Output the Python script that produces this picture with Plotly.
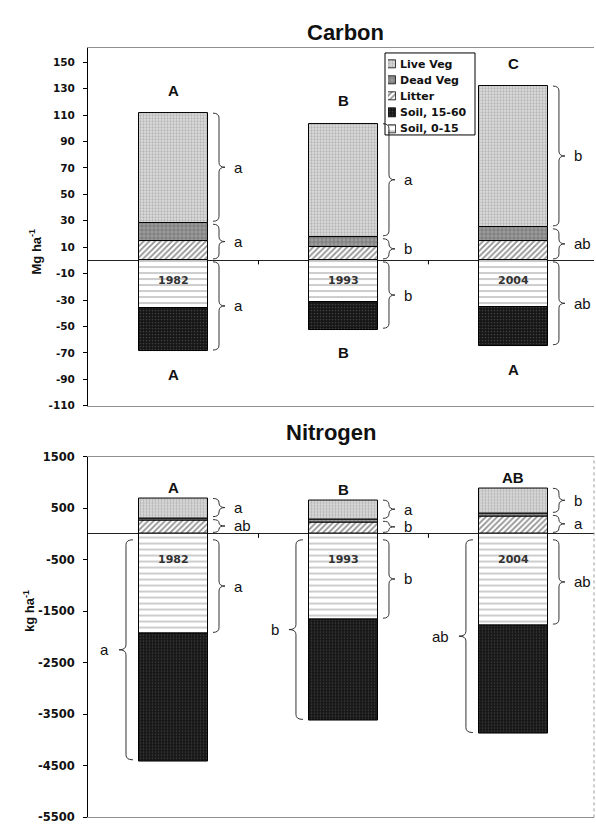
import plotly.graph_objects as go

W, H = 596, 829

# ---------------- data ----------------
years = ["1982", "1993", "2004"]
series_names = ["Live Veg", "Dead Veg", "Litter", "Soil, 15-60", "Soil, 0-15"]

# Carbon, Mg ha-1
c_live = [83, 86, 107]
c_dead = [13.5, 7.5, 10.5]
c_litter = [15, 10, 14.5]
c_soil_0_15 = [-36, -31.5, -35]
c_soil_15_60 = [-33, -21, -30]

# Nitrogen, kg ha-1
n_live = [382, 382, 496]
n_dead = [45, 44, 44]
n_litter = [260, 229, 344]
n_soil_0_15 = [-1940, -1665, -1780]
n_soil_15_60 = [-2472, -1963, -2103]

c_ticks = [150, 130, 110, 90, 70, 50, 30, 10, -10, -30, -50, -70, -90, -110]
n_ticks = [1500, 500, -500, -1500, -2500, -3500, -4500, -5500]

c_sig_total = ["A", "B", "C"]
c_sig_soil_total = ["A", "B", "A"]
c_sig_live = ["a", "a", "b"]
c_sig_surface = ["a", "b", "ab"]
c_sig_soil = ["a", "b", "ab"]

n_sig_total = ["A", "B", "AB"]
n_sig_live = ["a", "a", "b"]
n_sig_surface = ["ab", "b", "a"]
n_sig_soil_0_15 = ["a", "b", "ab"]
n_sig_soil = ["a", "b", "ab"]

# ---------------- styles / geometry ----------------
patterns = {
    "Live Veg": dict(shape=".", bgcolor="#dedede", fgcolor="#8a8a8a", size=3, solidity=0.45),
    "Dead Veg": dict(shape="+", bgcolor="#9c9c9c", fgcolor="#3c3c3c", size=4, solidity=0.3),
    "Litter": dict(shape="/", bgcolor="#ffffff", fgcolor="#222222", size=4, solidity=0.45),
    "Soil, 15-60": dict(shape=".", bgcolor="#151515", fgcolor="#6e6e6e", size=3, solidity=0.25),
    "Soil, 0-15": dict(shape="-", bgcolor="#ffffff", fgcolor="#3a3a3a", size=6, solidity=0.17),
}

X_L, X_R = 88, 594
TOP = (41.7, 405.0)
BOT = (456.7, 823.3)
x_range = [-0.503, 2.474]
c_range = [-110, 160.8]
n_range = [-5500, 1500]
BAR_W = 0.406
px_per_x = (X_R - X_L) / (x_range[1] - x_range[0])

FONT = "Liberation Sans, Arial, sans-serif"
DJ = "DejaVu Sans, sans-serif"

xpos = list(range(len(years)))

fig = go.Figure()
shapes = []
annotations = []


def ydom(px0, px1):
    return [1 - px1 / H, 1 - px0 / H]


def brace(xa, lo, hi, w, r, xref, yref):
    xm = xa + w / 2
    xt = xa + w
    ym = (lo + hi) / 2
    p = (f"M {xa},{hi} Q {xm},{hi} {xm},{hi - r} L {xm},{ym + r} "
         f"Q {xm},{ym} {xt},{ym} Q {xm},{ym} {xm},{ym - r} "
         f"L {xm},{lo + r} Q {xm},{lo} {xa},{lo}")
    return dict(type="path", path=p, xref=xref, yref=yref,
                line=dict(color="#333333", width=1))


def add_chart(xa, ya, yr, px_box, layers, sig_total, sig_live, sig_surface,
              sig_soil_right, soil_right_both, sig_soil_left, sig_soil_total,
              above_shift, below_shift, year_shift):
    live, dead, litter, s015, s1560 = layers
    px_per_y = (px_box[1] - px_box[0]) / (yr[1] - yr[0])
    order = [("Soil, 0-15", s015), ("Soil, 15-60", s1560), ("Litter", litter),
             ("Dead Veg", dead), ("Live Veg", live)]
    for name, vals in order:
        fig.add_trace(go.Bar(
            x=xpos, y=vals, width=BAR_W, name=name, xaxis=xa, yaxis=ya,
            showlegend=False, hoverinfo="skip",
            marker=dict(pattern=patterns[name], line=dict(color="#000", width=1)),
        ))
    xref, yref = xa, ya
    gap = 1.5 / px_per_y
    r_px = 5
    for i, x in enumerate(xpos):
        surf = litter[i] + dead[i]
        top = surf + live[i]
        soil015 = s015[i]
        soil_tot = s015[i] + s1560[i]
        xr_edge = x + BAR_W / 2 + 5 / px_per_x
        bw = 12 / px_per_x
        tip_lab = xr_edge + bw + 7 / px_per_x
        rights = [(surf + gap, top, sig_live[i]), (gap, surf - gap, sig_surface[i])]
        if soil_right_both:
            rights.append((soil_tot + gap, -gap, sig_soil_right[i]))
        else:
            rights.append((soil015 + gap, -4 * gap, sig_soil_right[i]))
        for lo, hi, lab in rights:
            r = min(r_px / px_per_y, (hi - lo) / 4)
            shapes.append(brace(xr_edge, lo, hi, bw, r, xref, yref))
            annotations.append(dict(x=tip_lab, y=(lo + hi) / 2, xref=xref, yref=yref,
                                    text=lab, showarrow=False, xanchor="left",
                                    yanchor="middle", font=dict(family=FONT, size=15, color="#111")))
        if sig_soil_left is not None:
            xl_edge = x - BAR_W / 2 - 6 / px_per_x
            lo, hi = soil_tot + gap, -4 * gap
            r = min(r_px / px_per_y, (hi - lo) / 4)
            shapes.append(brace(xl_edge, lo, hi, -14 / px_per_x, r, xref, yref))
            annotations.append(dict(x=xl_edge - 22 / px_per_x, y=(lo + hi) / 2, xref=xref,
                                    yref=yref, text=sig_soil_left[i], showarrow=False,
                                    xanchor="right", yanchor="middle",
                                    font=dict(family=FONT, size=15, color="#111")))
        annotations.append(dict(x=x, y=top, xref=xref, yref=yref, text=f"<b>{sig_total[i]}</b>",
                                showarrow=False, yanchor="middle", yshift=above_shift,
                                font=dict(family=FONT, size=15, color="#111")))
        if sig_soil_total is not None:
            annotations.append(dict(x=x, y=soil_tot, xref=xref, yref=yref,
                                    text=f"<b>{sig_soil_total[i]}</b>", showarrow=False,
                                    yanchor="middle", yshift=below_shift,
                                    font=dict(family=FONT, size=15, color="#111")))
        annotations.append(dict(x=x, y=0, xref=xref, yref=yref, text=f"<b>{years[i]}</b>",
                                showarrow=False, yanchor="middle", yshift=year_shift,
                                font=dict(family=DJ, size=11, color="#333")))
    # category boundary ticks on the zero line
    for b in [0.5, 1.5]:
        shapes.append(dict(type="line", xref=xref, yref=yref, x0=b, x1=b,
                           ysizemode="pixel", yanchor=0, y0=0, y1=-4,
                           line=dict(color="#000", width=1)))


add_chart("x", "y", c_range, TOP,
          (c_live, c_dead, c_litter, c_soil_0_15, c_soil_15_60),
          c_sig_total, c_sig_live, c_sig_surface, c_sig_soil, True, None,
          c_sig_soil_total, 23, -23, -20)
add_chart("x2", "y2", n_range, BOT,
          (n_live, n_dead, n_litter, n_soil_0_15, n_soil_15_60),
          n_sig_total, n_sig_live, n_sig_surface, n_sig_soil_0_15, False, n_sig_soil,
          None, 11, 0, -26)

# ---------------- legend (drawn manually) ----------------
leg_rows = list(range(len(series_names)))
for i, name in enumerate(series_names):
    fig.add_trace(go.Bar(
        x=[1], y=[leg_rows[i]], orientation="h", width=0.5, xaxis="x3", yaxis="y3",
        showlegend=False, hoverinfo="skip",
        marker=dict(pattern=patterns[name], line=dict(color="#000", width=0.8)),
    ))
    annotations.append(dict(x=398 / W, y=leg_rows[i], xref="paper", yref="y3",
                            text=f"<b>{name}</b>", showarrow=False, xanchor="left",
                            yanchor="middle", font=dict(family=DJ, size=11, color="#111")))
shapes.append(dict(type="rect", xref="paper", yref="paper", x0=385 / W, x1=475 / W,
                   y0=1 - 130 / H, y1=1 - 46.7 / H, line=dict(color="#000", width=1),
                   layer="above"))

# right frame of the lower chart
shapes.append(dict(type="line", xref="x2 domain", yref="y2 domain", x0=1, x1=1, y0=0, y1=1,
                   line=dict(color="#9a9a9a", width=1, dash="dot")))

# titles
annotations.append(dict(x=345 / W, y=1 - 25.6 / H, xref="paper", yref="paper",
                        text="<b>Carbon</b>", showarrow=False, yanchor="middle",
                        font=dict(family=FONT, size=22, color="#111")))
annotations.append(dict(x=331 / W, y=1 - 432 / H, xref="paper", yref="paper",
                        text="<b>Nitrogen</b>", showarrow=False, yanchor="middle",
                        font=dict(family=FONT, size=22, color="#111")))
annotations.append(dict(x=25 / W, y=1 - 223 / H, xref="paper", yref="paper",
                        text="<b>Mg ha<sup>-1</sup></b>", showarrow=False, textangle=-90,
                        font=dict(family=FONT, size=13, color="#111")))
annotations.append(dict(x=19 / W, y=1 - 637 / H, xref="paper", yref="paper",
                        text="<b>kg ha<sup>-1</sup></b>", showarrow=False, textangle=-90,
                        font=dict(family=FONT, size=13, color="#111")))

xdom = [X_L / W, X_R / W]
xaxis_common = dict(domain=xdom, range=x_range, showticklabels=False, showgrid=False,
                    zeroline=False, showline=True, mirror=True, linecolor="#8f8f8f",
                    linewidth=1, ticks="", fixedrange=True)


def yaxis_common(rng, ticks, size):
    return dict(range=rng, tickvals=ticks, ticktext=[str(t) for t in ticks],
                showgrid=False, zeroline=True, zerolinecolor="#222", zerolinewidth=1,
                showline=True, linecolor="#000", linewidth=1, ticks="outside",
                ticklen=4, tickcolor="#000", ticklabelstandoff=6,
                tickfont=dict(family=DJ, size=size, color="#111", weight="bold"),
                fixedrange=True)


fig.update_layout(
    width=W, height=H, autosize=False,
    margin=dict(l=0, r=0, t=0, b=0),
    paper_bgcolor="white", plot_bgcolor="white",
    barmode="relative", bargap=0, showlegend=False,
    xaxis=dict(**xaxis_common, anchor="y"),
    yaxis=dict(**yaxis_common(c_range, c_ticks, 10.5), domain=ydom(*TOP), anchor="x"),
    xaxis2=dict(**xaxis_common, anchor="y2"),
    yaxis2=dict(**yaxis_common(n_range, n_ticks, 11.5), domain=ydom(*BOT), anchor="x2"),
    xaxis3=dict(domain=[388 / W, 396 / W], range=[0, 1], visible=False, anchor="y3",
                fixedrange=True),
    yaxis3=dict(domain=ydom(50, 132), range=[4.5, -0.5], visible=False, anchor="x3",
                fixedrange=True),
    shapes=shapes,
    annotations=annotations,
)

fig.write_html("out.html", config={"displayModeBar": False})
